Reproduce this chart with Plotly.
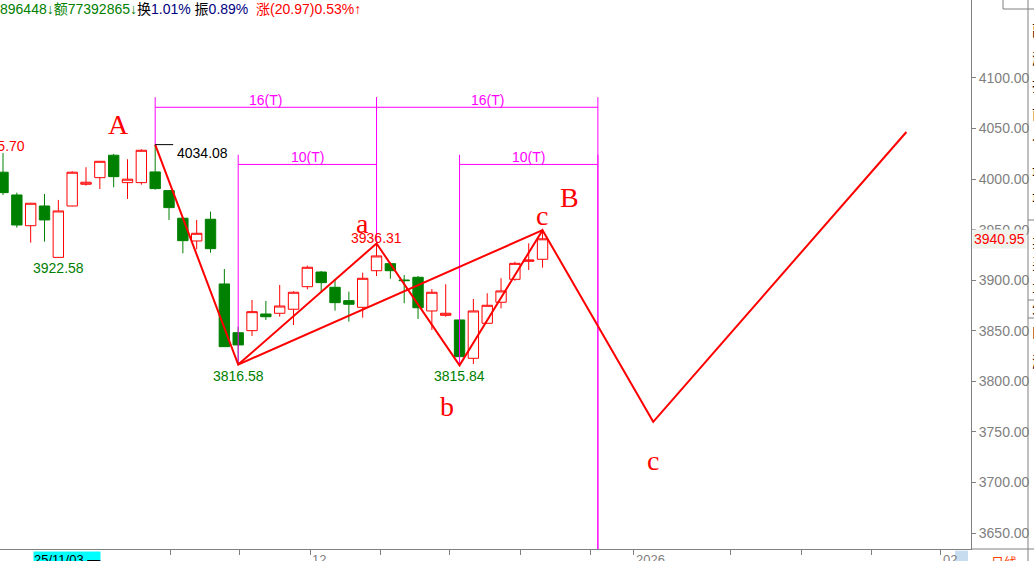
import plotly.graph_objects as go

# daily bars, index 0 = first bar visible on the left edge
opens = [4006.8, 3984.3, 3953.9, 3973.4, 3922.6, 3973.4, 3994.9, 4001.4, 4023.6, 3996.5,
         3996.5, 4007.1, 3988.6, 3961.3, 3938.8, 3960.3, 3896.3, 3848.1, 3850.1, 3866.6,
         3867.3, 3871.3, 3893.6, 3908.1, 3893.0, 3879.8, 3873.2, 3909.4, 3916.4, 3900.2,
         3902.9, 3869.6, 3865.3, 3860.7, 3822.8, 3857.4, 3878.2, 3900.9, 3918.7, 3920.7]
highs = [4025.70, 3986.6, 3976.5, 3985.3, 3979.4, 4007.8, 4011.7, 4017.9, 4024.9, 4019.6,
         4029.5, 4034.08, 3989.0, 3962.0, 3959.6, 3967.8, 3911.1, 3854.0, 3880.4, 3879.5,
         3895.3, 3889.0, 3914.4, 3909.0, 3900.9, 3888.7, 3907.5, 3936.31, 3917.5, 3905.2,
         3904.2, 3891.3, 3896.0, 3861.5, 3881.4, 3887.1, 3901.9, 3918.3, 3936.5, 3949.5]
lows = [3984.3, 3952.0, 3937.1, 3938.1, 3922.58, 3973.0, 3993.5, 3990.2, 3991.9, 3980.4,
        3994.5, 3989.5, 3959.6, 3926.6, 3930.6, 3927.2, 3834.0, 3816.58, 3844.8, 3860.7,
        3863.9, 3855.7, 3891.0, 3887.7, 3869.9, 3859.0, 3862.9, 3904.2, 3901.5, 3877.2,
        3861.7, 3850.8, 3863.9, 3815.84, 3817.2, 3857.0, 3872.2, 3899.5, 3910.1, 3912.4]
closes = [3986.6, 3954.6, 3976.1, 3959.6, 3968.5, 4006.8, 3996.9, 4017.6, 4002.4, 3999.9,
          4028.5, 3990.6, 3971.8, 3939.1, 3946.4, 3931.2, 3834.3, 3836.0, 3868.9, 3863.9,
          3874.5, 3888.1, 3912.8, 3897.6, 3877.8, 3876.2, 3901.9, 3924.0, 3909.4, 3899.6,
          3872.8, 3888.1, 3867.3, 3824.4, 3869.6, 3875.2, 3889.4, 3916.7, 3919.98, 3940.95]
bars = list(range(len(opens)))

# wave drawing: pivots (bar index, price) incl. projected part
wave_x = [11, 17, 27, 33, 39, 47, 65.3]
wave_y = [4034.08, 3816.58, 3936.31, 3815.84, 3949.5, 3760.0, 4046.6]
link_x = [17, 39]
link_y = [3816.58, 3949.5]

# time cycles
cycle_start = [11, 27, 17, 33]
cycle_end = [27, 43, 27, 43]
cycle_text = ["16(T)", "16(T)", "10(T)", "10(T)"]

# x axis week marks and labels
week_ticks = [12.1, 17.1, 22.2, 27.3, 32.3, 37.4, 42.5, 45.6, 52.6, 57.7, 62.8, 67.8]
date_labels = {22.2: "12", 45.6: "2026", 67.8: "02"}

price_ticks = [3650, 3700, 3750, 3800, 3850, 3900, 3950, 4000, 4050, 4100]
last_price = 3940.95

X_RANGE = [-0.217, 69.97]
Y_RANGE = [3634.2, 4177.1]
RED = "#ff0000"
GREEN = "#008000"
MAG = "#ff00ff"
GRAY = "#808080"
NUM_FONT = "Liberation Sans, Arial, Noto Sans CJK SC"

fig = go.Figure()

fig.add_trace(go.Candlestick(
    x=bars, open=opens, high=highs, low=lows, close=closes,
    increasing=dict(line=dict(color=RED, width=1), fillcolor="white"),
    decreasing=dict(line=dict(color=GREEN, width=1), fillcolor=GREEN),
    whiskerwidth=0, hoverinfo="skip", showlegend=False,
))

# magenta cycle lines
pivots = dict(zip(wave_x, wave_y))
mx, my = [], []
for s, e, t in zip(cycle_start, cycle_end, cycle_text):
    top, level = (4081, 4071) if t.startswith("16") else (4024, 4014.5)
    for i in (s, e):
        mx += [i, i, None]
        my += [top, pivots.get(i, Y_RANGE[0]), None]
    mx += [s, e, None]
    my += [level, level, None]
    fig.add_annotation(x=(s + e) / 2, y=level, text=t, showarrow=False,
                       yanchor="bottom", yshift=-3,
                       font=dict(family=NUM_FONT, size=14, color=MAG))
fig.add_trace(go.Scatter(x=mx, y=my, mode="lines", line=dict(color=MAG, width=1),
                         hoverinfo="skip", showlegend=False))

# red wave lines
fig.add_trace(go.Scatter(x=wave_x, y=wave_y, mode="lines", line=dict(color=RED, width=2),
                         hoverinfo="skip", showlegend=False))
fig.add_trace(go.Scatter(x=link_x, y=link_y, mode="lines", line=dict(color=RED, width=2),
                         hoverinfo="skip", showlegend=False))

# small black marker line at the top
fig.add_trace(go.Scatter(x=[wave_x[0], wave_x[0] + 1.3], y=[wave_y[0], wave_y[0]], mode="lines",
                         line=dict(color="black", width=1), hoverinfo="skip", showlegend=False))

# price labels
def plabel(x, y, txt, color, xanchor="center", yanchor="top", xs=0, ys=0):
    fig.add_annotation(x=x, y=y, text=txt, showarrow=False, xanchor=xanchor, yanchor=yanchor,
                       xshift=xs, yshift=ys, font=dict(family=NUM_FONT, size=14, color=color))

plabel(0, highs[0], "%.2f" % highs[0], RED, xanchor="right", yanchor="middle", xs=24, ys=7)
plabel(4, lows[4], "%.2f" % lows[4], GREEN, ys=-1)
plabel(17, wave_y[1], "%.2f" % wave_y[1], GREEN, ys=-1)
plabel(33, wave_y[3], "%.2f" % wave_y[3], GREEN, ys=-1)
plabel(27, wave_y[2], "%.2f" % wave_y[2], RED, yanchor="bottom", ys=-4)
plabel(wave_x[0] + 1.4, wave_y[0], "%.2f" % wave_y[0], "black", xanchor="left", yanchor="middle", ys=-8)

# wave letters
letters = [("A", 0, -37, 20), ("a", 2, -14, 20), ("b", 3, -13, -41),
           ("c", 4, -1, 15), ("B", 4, 27, 33), ("c", 5, 0, -39)]
for txt, k, xs, ys in letters:
    fig.add_annotation(x=wave_x[k], y=wave_y[k], text=txt, showarrow=False,
                       xshift=xs, yshift=ys,
                       font=dict(family="Liberation Serif, Times New Roman", size=28, color=RED))

# last price box on the axis
fig.add_annotation(xref="paper", x=1, y=last_price, text="%.2f" % last_price, showarrow=False,
                   xanchor="left", xshift=1, bgcolor="#eef3ee",
                   font=dict(family=NUM_FONT, size=14, color=RED))

# header quote line
header = ("<span style='color:#008000'>896448↓额77392865↓</span>"
          "<span style='color:black'>换</span><span style='color:#000080'>1.01%</span> "
          "<span style='color:black'>振</span><span style='color:#000080'>0.89%</span> "
          "<span style='color:#ff0000'> 涨(20.97)0.53%↑</span>")
fig.add_annotation(xref="paper", yref="paper", x=0, y=1, xanchor="left", yanchor="top",
                   text=header, showarrow=False, yshift=1, xshift=-2,
                   font=dict(family=NUM_FONT, size=14))

# bottom date labels
fig.add_annotation(xref="paper", yref="paper", x=33 / 971, y=0, xanchor="left", yanchor="top",
                   text="25/11/03 —", showarrow=False, bgcolor="#00ffff", borderpad=0,
                   yshift=-2, font=dict(family=NUM_FONT, size=13, color="black"))
for pos, txt in date_labels.items():
    fig.add_annotation(x=pos, yref="paper", y=0, xanchor="left", yanchor="top", text=txt,
                       showarrow=False, xshift=0, yshift=-1,
                       font=dict(family=NUM_FONT, size=13, color=GRAY))
fig.add_annotation(xref="paper", yref="paper", x=1.0, y=0, xanchor="left", yanchor="top",
                   text="日线", showarrow=False, xshift=18, yshift=-1,
                   font=dict(family="Noto Sans CJK SC", size=13, color="#ff4000"))

# right info panel edge (mostly cut off)
side_chars = ["副", "涨", "振", "前", "今", "最", "最", "卖", "买", "量", "外", "内", "涨"]
side_y = [30, 57, 85, 112, 140, 168, 195, 240, 262, 285, 306, 330, 360]
for ch, yy in zip(side_chars, side_y):
    fig.add_annotation(xref="paper", yref="paper", x=1030 / 971, y=1 - yy / 549, text=ch,
                       showarrow=False, xanchor="left", yanchor="middle",
                       font=dict(family="Noto Sans CJK SC", size=15, color="black"))

shapes = [
    dict(type="line", xref="paper", yref="paper", x0=1028 / 971, x1=1028 / 971, y0=-0.03, y1=1,
         line=dict(color=GRAY, width=1)),
    dict(type="line", xref="paper", yref="paper", x0=1, x1=1100 / 971, y0=0, y1=0,
         line=dict(color=GRAY, width=1)),
    dict(type="rect", xref="paper", yref="paper", x0=1003 / 971, x1=1040 / 971,
         y0=1 - 9 / 549, y1=1.01, line=dict(color=GRAY, width=1)),
    dict(type="rect", xref="paper", yref="paper", x0=955 / 971, x1=968 / 971,
         y0=-0.03, y1=-0.003, fillcolor="#c8dcf0", line=dict(width=0)),
]
for yy in (220, 300, 318):
    shapes.append(dict(type="line", xref="paper", yref="paper", x0=1028 / 971, x1=1040 / 971,
                       y0=1 - yy / 549, y1=1 - yy / 549, line=dict(color=GRAY, width=1)))

fig.update_layout(
    width=1034, height=561,
    margin=dict(l=0, r=63, t=0, b=12),
    paper_bgcolor="white", plot_bgcolor="white",
    boxgap=0.25, boxgroupgap=0,
    shapes=shapes,
    xaxis=dict(range=X_RANGE, rangeslider=dict(visible=False), showgrid=False, zeroline=False,
               showline=True, linecolor=GRAY, linewidth=1, ticks="outside", ticklen=5,
               tickcolor=GRAY, tickvals=week_ticks, ticktext=[""] * len(week_ticks)),
    yaxis=dict(range=Y_RANGE, side="right", showgrid=False, zeroline=False, showline=True,
               linecolor=GRAY, linewidth=1, ticks="outside", ticklen=4, tickcolor=GRAY,
               tickvals=price_ticks, ticktext=["%.2f" % p for p in price_ticks],
               tickfont=dict(family=NUM_FONT, size=14, color=GRAY)),
)

# the page body has a default margin; drop it so the chart sits at the window corner
fig.write_html("out.html", config={"displayModeBar": False},
               post_script="document.body.style.margin='0';")
